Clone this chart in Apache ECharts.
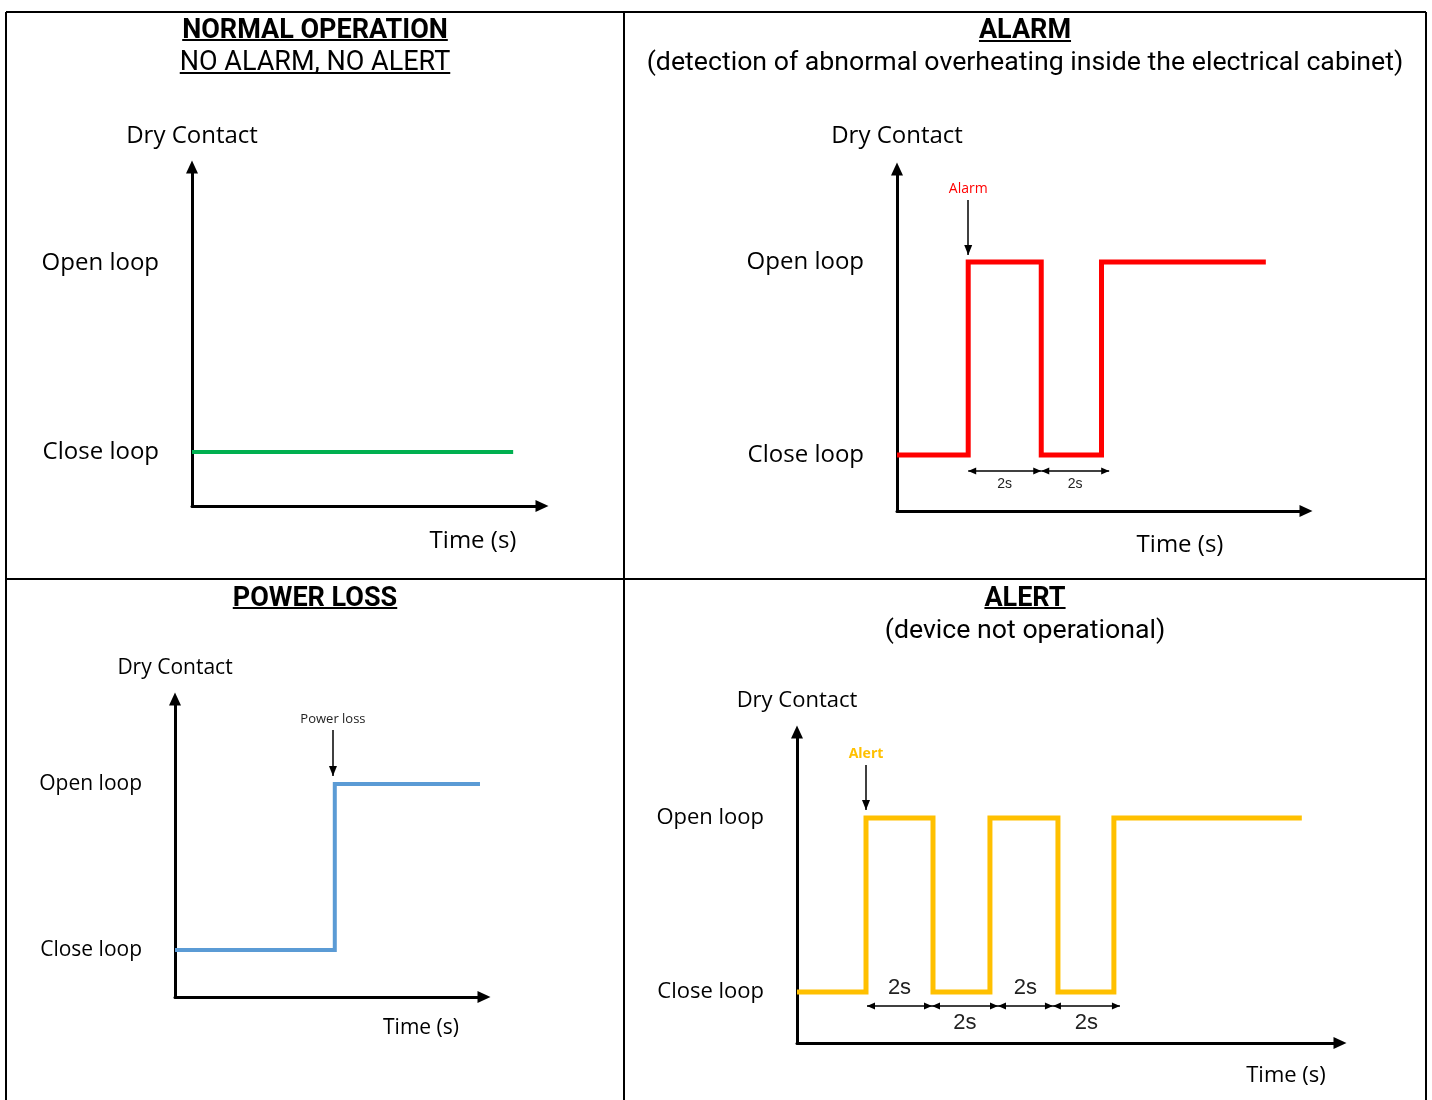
<!DOCTYPE html>
<html>
<head>
<meta charset="utf-8">
<script src="https://cdn.jsdelivr.net/npm/echarts@6/dist/echarts.min.js"></script>
<style>
html,body{margin:0;padding:0;background:#fff;}
#chart{width:1432px;height:1100px;}
</style>
</head>
<body>
<div id="chart"></div>
<script>
// ---------------- data ----------------
const stateLabels = ['Close loop', 'Open loop'];   // value 0 / value 1
const yAxisName = 'Dry Contact';
const xAxisName = 'Time (s)';

const panelTitles = ['NORMAL OPERATION', 'ALARM', 'POWER LOSS', 'ALERT'];
const panelSubtitles = ['NO ALARM, NO ALERT', '(detection of abnormal overheating inside the electrical cabinet)', '', '(device not operational)'];

// Normal operation: contact stays closed
const normalTime = [0, 8.8];
const normalState = [0, 0];

// Alarm: open 2 s, closed 2 s, then open
const alarmTime = [0, 1.95, 3.95, 5.6, 10.1];
const alarmState = [0, 1, 0, 1, 1];
const alarmMarkTime = 1.95;
const alarmMarkRange = [1.036, 1.321];
const alarmSpans = [[1.95, 3.95], [3.95, 5.81]];
const alarmSpanLevel = -0.083;

// Power loss: contact opens and stays open
const powerTime = [0, 4.38, 8.36];
const powerState = [0, 1, 1];
const powerMarkTime = 4.33;
const powerMarkRange = [1.048, 1.325];

// Alert: open/close 2 s pulses, then open
const alertTime = [0, 2.06, 4.06, 5.76, 7.79, 9.46, 15.07];
const alertState = [0, 1, 0, 1, 0, 1, 1];
const alertMarkTime = 2.06;
const alertMarkRange = [1.046, 1.305];
const alertSpans = [[2.09, 4.03], [4.03, 6.0], [6.0, 7.64], [7.64, 9.64]];
const alertSpanLevel = -0.08;

const markerLabels = ['Alarm', 'Power loss', 'Alert'];
const spanLabel = '2s';

// ---------------- layout / style ----------------
const labelFont = "'Open Sans', sans-serif";
const titleFont = "Roboto, sans-serif";
const markerHead = {symbolSize: [8, 10], symbolOffset: [0, 5]};
const spanHead = {symbolSize: [7, 8], symbolOffset: [0, 4]};

const layouts = [
  {grid:{left:192, top:167, width:350, height:339}, xMax:9.59, yMin:-0.286, yMax:1.508, fs:24, dryGap:31, timeGap:-69, timeShift:35, lineW:4, color:'#00B050'},
  {grid:{left:897, top:169, width:409, height:342}, xMax:11.2, yMin:-0.29, yMax:1.482, fs:24, dryGap:33, timeGap:-126, timeShift:34, lineW:5, color:'#FF0000'},
  {grid:{left:175, top:699, width:309, height:298}, xMax:8.47, yMin:-0.283, yMax:1.512, fs:21, dryGap:31, timeGap:-63, timeShift:31, lineW:4, color:'#5B9BD5'},
  {grid:{left:797, top:732, width:543, height:311}, xMax:16.21, yMin:-0.293, yMax:1.494, fs:22, dryGap:31, timeGap:-54, timeShift:33, lineW:5, color:'#FFC000'}
];

const panelData = [
  {time: normalTime, state: normalState},
  {time: alarmTime, state: alarmState},
  {time: powerTime, state: powerState},
  {time: alertTime, state: alertState}
];

function pairs(t, s) { return t.map((v, i) => [v, s[i]]); }

function markerLine(t, range, text, labelStyle) {
  return [
    Object.assign({coord: [t, range[0]], symbol: 'triangle',
      label: Object.assign({show: true, position: 'end', formatter: text, distance: 4, fontFamily: labelFont}, labelStyle)}, markerHead),
    Object.assign({coord: [t, range[1]], symbol: 'none'}, markerHead)
  ];
}
function spanLines(spans, level, positions, fontSize, distances) {
  return spans.map((s, i) => [
    Object.assign({coord: [s[0], level], symbol: 'triangle',
      label: {show: true, position: positions[i], formatter: spanLabel, distance: distances[i], fontSize: fontSize, color: '#222', fontFamily: "'Liberation Sans', Arial, sans-serif"}}, spanHead),
    Object.assign({coord: [s[1], level], symbol: 'triangle'}, spanHead)
  ]);
}

const markData = [
  [],
  [markerLine(alarmMarkTime, alarmMarkRange, markerLabels[0], {color: '#FF0000', fontSize: 14})]
    .concat(spanLines(alarmSpans, alarmSpanLevel, ['insideMiddleBottom', 'insideMiddleBottom'], 14, [6, 6])),
  [markerLine(powerMarkTime, powerMarkRange, markerLabels[1], {color: '#222', fontSize: 13})],
  [markerLine(alertMarkTime, alertMarkRange, markerLabels[2], {color: '#FFC000', fontSize: 14, fontWeight: 'bold'})]
    .concat(spanLines(alertSpans, alertSpanLevel, ['insideMiddleTop', 'insideMiddleBottom', 'insideMiddleTop', 'insideMiddleBottom'], 22, [7, 6, 7, 6]))
];

const grids = [], xAxes = [], yAxes = [], series = [];
layouts.forEach((p, i) => {
  grids.push(Object.assign({containLabel: false, outerBoundsMode: 'none'}, p.grid));
  xAxes.push({
    gridIndex: i, type: 'value', min: 0, max: p.xMax,
    axisLine: {show: true, onZero: false, symbol: ['none', 'triangle'], symbolSize: [12, 13], lineStyle: {color: '#000', width: 3}},
    axisTick: {show: false}, axisLabel: {show: false}, splitLine: {show: false},
    name: xAxisName, nameLocation: 'end', nameGap: p.timeGap,
    nameTextStyle: {fontFamily: labelFont, fontSize: p.fs, color: '#000', align: 'center', verticalAlign: 'top', lineHeight: p.timeShift * 2}
  });
  yAxes.push({
    gridIndex: i, type: 'value', min: p.yMin, max: p.yMax,
    axisLine: {show: true, onZero: false, symbol: ['none', 'triangle'], symbolSize: [12, 13], lineStyle: {color: '#000', width: 3}},
    axisTick: {show: false}, splitLine: {show: false},
    axisLabel: {show: true, customValues: [0, 1], margin: 33, formatter: v => stateLabels[Math.round(v)],
      fontFamily: labelFont, fontSize: p.fs, color: '#000'},
    name: yAxisName, nameLocation: 'end', nameGap: p.dryGap, nameMoveOverlap: false,
    nameTextStyle: {fontFamily: labelFont, fontSize: p.fs, color: '#000', align: 'center', verticalAlign: 'middle'}
  });
  series.push({
    type: 'line', xAxisIndex: i, yAxisIndex: i, step: 'end',
    data: pairs(panelData[i].time, panelData[i].state),
    showSymbol: false, symbol: 'none', silent: true,
    lineStyle: {color: p.color, width: p.lineW, cap: 'butt', join: 'miter'},
    emphasis: {disabled: true},
    markLine: {
      silent: true, animation: false,
      symbol: ['triangle', 'triangle'],
      symbolSize: 8,
      itemStyle: {color: '#000'},
      lineStyle: {color: '#000', width: 1.5, type: 'solid'},
      emphasis: {disabled: true},
      data: markData[i]
    }
  });
});

// ---------------- table frame & titles ----------------
const graphics = [];
const frameSegs = [[6, 12, 1426, 12], [6, 12, 6, 1100], [1426, 12, 1426, 1100], [624, 12, 624, 1100], [6, 579, 1426, 579]];
frameSegs.forEach(s => graphics.push({type: 'line', silent: true, shape: {x1: s[0], y1: s[1], x2: s[2], y2: s[3]}, style: {stroke: '#000', lineWidth: 2}}));

const titleSpecs = [
  {text: panelTitles[0], x: 315, y: 31, bold: true, size: 27, ul: 40},
  {text: panelSubtitles[0], x: 315, y: 63, bold: false, size: 27, ul: 73},
  {text: panelTitles[1], x: 1025, y: 31, bold: true, size: 27, ul: 41},
  {text: panelSubtitles[1], x: 1025, y: 63, bold: false, size: 26.7},
  {text: panelTitles[2], x: 315, y: 599, bold: true, size: 27, ul: 608},
  {text: panelTitles[3], x: 1025, y: 599, bold: true, size: 27, ul: 608},
  {text: panelSubtitles[3], x: 1025, y: 631, bold: false, size: 26.7}
];
const mctx = document.createElement('canvas').getContext('2d');
titleSpecs.forEach(t => {
  const font = (t.bold ? 'bold ' : '') + t.size + 'px ' + titleFont;
  graphics.push({type: 'text', silent: true, x: t.x, y: t.y,
    style: {text: t.text, font: font, fill: '#000', align: 'center', verticalAlign: 'middle', textAlign: 'center', textVerticalAlign: 'middle'}});
  if (t.ul) {
    mctx.font = font;
    const w = mctx.measureText(t.text).width;
    graphics.push({type: 'line', silent: true, shape: {x1: t.x - w / 2, y1: t.ul, x2: t.x + w / 2, y2: t.ul}, style: {stroke: '#000', lineWidth: 2}});
  }
});

const chart = echarts.init(document.getElementById('chart'), null, {renderer: 'canvas'});
chart.setOption({
  animation: false,
  backgroundColor: '#fff',
  grid: grids, xAxis: xAxes, yAxis: yAxes, series: series,
  graphic: {elements: graphics}
});
</script>
</body>
</html>
